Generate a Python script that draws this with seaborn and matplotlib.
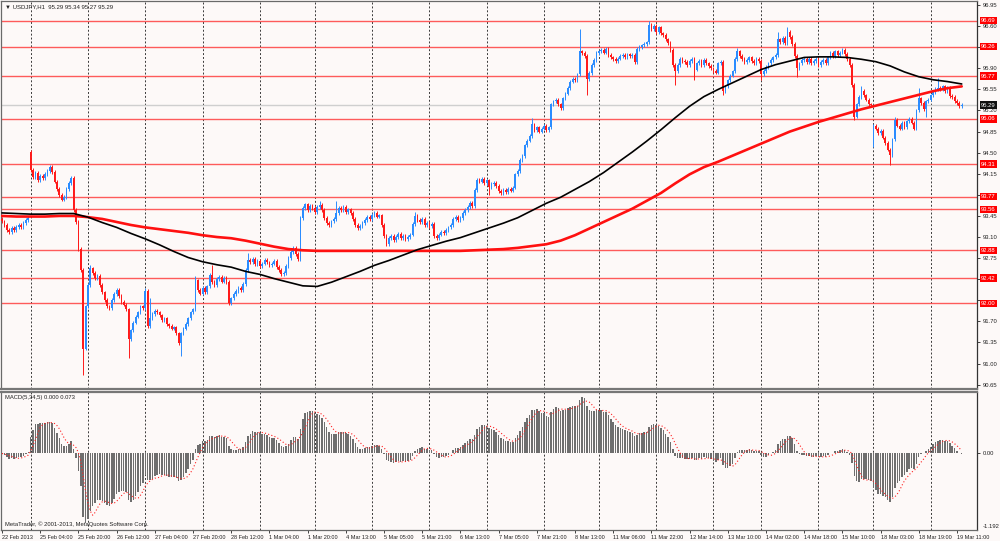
import numpy as np
import pandas as pd
import seaborn as sns
import matplotlib
matplotlib.use("Agg")
import matplotlib.pyplot as plt

# USDJPY H1 closes, one per bar (22 Feb 12:00 -> 19 Mar 13:00)
closes = [
    93.36, 93.30, 93.22, 93.18, 93.25, 93.21, 93.27, 93.30, 93.26, 93.33, 93.38, 93.42,  # 0-11
    94.21,                                                                               # 12
    94.10, 94.16, 94.05, 94.12, 94.08, 94.15, 94.20, 94.26,                              # 13-20
    94.18, 94.02, 93.90, 93.80, 93.72, 93.76,                                            # 21-26
    93.90, 94.00, 94.08, 93.55,                                                          # 27-30
    93.35, 92.90, 92.55, 91.25,                                                          # 31-34
    91.95, 92.30, 92.58, 92.50, 92.42, 92.45, 92.30, 92.18, 92.05, 91.95, 91.92,         # 35-45
    92.05, 92.15, 92.22, 92.12, 92.02, 91.98, 91.90,                                     # 46-52
    91.40, 91.55, 91.68, 91.78, 91.85,                                                   # 53-57
    91.95, 91.92, 92.20, 91.62,                                                          # 58-61
    91.75, 91.82, 91.88, 91.85,                                                          # 62-65
    91.80, 91.72, 91.75, 91.65, 91.62, 91.58, 91.60, 91.50,                              # 66-73
    91.34, 91.50,                                                                        # 74-75
    91.58, 91.66, 91.75, 91.85, 91.90, 92.38,                                            # 76-81
    92.22, 92.16, 92.25, 92.18, 92.28,                                                   # 82-86
    92.47, 92.35,                                                                        # 87-88
    92.30, 92.40, 92.44, 92.36, 92.42, 92.35, 92.00,                                     # 89-95
    92.08, 92.15, 92.20, 92.26, 92.22, 92.32, 92.55, 92.72,                              # 96-103
    92.68, 92.74, 92.65, 92.70, 92.62, 92.66, 92.72, 92.68, 92.63, 92.66, 92.70,         # 104-114
    92.60, 92.55, 92.48, 92.50,                                                          # 115-118
    92.62, 92.75, 92.85, 92.92, 92.82, 92.74,                                            # 119-124
    93.42, 93.58, 93.64,                                                                 # 125-127
    93.55, 93.62, 93.58, 93.52, 93.60, 93.63, 93.55,                                     # 128-134
    93.42, 93.33, 93.30, 93.36, 93.40,                                                   # 135-139
    93.50, 93.58, 93.55, 93.60, 93.52, 93.56, 93.50,                                     # 140-146
    93.40, 93.30, 93.25, 93.28, 93.33,                                                   # 147-151
    93.38, 93.44, 93.40, 93.47, 93.50, 93.44, 93.46,                                     # 152-158
    93.30, 93.12, 92.98,                                                                 # 159-161
    93.08, 93.12, 93.05, 93.10, 93.15, 93.08, 93.12, 93.06, 93.10, 93.14,                # 162-171
    93.32, 93.45, 93.38, 93.35, 93.40,                                                   # 172-176
    93.30, 93.33, 93.28, 93.32, 93.12, 93.08,                                            # 177-182
    93.14, 93.18, 93.16, 93.22, 93.26, 93.30,                                            # 183-188
    93.40, 93.44, 93.38, 93.42,                                                          # 189-192
    93.50, 93.55, 93.60, 93.66, 93.62, 93.88, 94.05,                                     # 193-199
    94.02, 94.06, 94.00, 94.04, 93.93,                                                   # 200-204
    93.98, 94.00, 93.95, 93.86, 93.83,                                                   # 205-209
    93.88, 93.85, 93.90, 93.87, 93.92,                                                   # 210-214
    94.14, 94.20, 94.38, 94.44, 94.62, 94.70, 94.78, 94.97,                              # 215-222
    94.88, 94.92, 94.85, 94.90, 94.95, 94.88, 94.92,                                     # 223-229
    95.30, 95.35, 95.38, 95.30, 95.24,                                                   # 230-234
    95.40, 95.48, 95.57, 95.68, 95.72, 95.70, 95.80,                                     # 235-241
    96.18, 96.15, 96.10, 95.72,                                                          # 242-245
    95.82, 95.95, 96.04, 96.15, 96.18,                                                   # 246-250
    96.20, 96.16, 96.22, 96.12,                                                          # 251-254
    96.08, 96.05, 96.02, 96.06,                                                          # 255-258
    96.10, 96.12, 96.08, 96.13, 96.10, 96.12, 96.00,                                     # 259-265
    96.22, 96.25, 96.28, 96.30, 96.33, 96.62,                                            # 266-271
    96.55, 96.60, 96.50, 96.58, 96.48,                                                   # 272-276
    96.45, 96.38, 96.32, 96.20, 95.95, 95.85,                                            # 277-282
    95.95, 96.05, 96.02,                                                                 # 283-285
    96.00, 95.96, 96.02, 96.05, 95.88,                                                   # 286-290
    95.98, 96.02, 95.95, 96.04, 95.98, 95.94,                                            # 291-296
    95.90, 95.86, 95.83, 95.98, 96.00, 95.52,                                            # 297-302
    95.60, 95.70, 95.78, 95.85, 96.05, 96.18,                                            # 303-308
    96.10, 96.05, 96.00, 96.04,                                                          # 309-312
    96.08, 96.02, 95.98, 96.06, 96.02, 95.80,                                            # 313-318
    95.86, 95.92, 95.98, 96.04, 96.08, 96.12,                                            # 319-324
    96.38, 96.34, 96.40, 96.32, 96.50,                                                   # 325-329
    96.42, 96.30, 96.10, 95.90,                                                          # 330-333
    95.98, 96.04, 96.06,                                                                 # 334-336
    96.00, 96.05, 95.98, 96.02, 96.06, 95.96, 96.00, 96.04,                              # 337-344
    95.98, 96.08, 96.15, 96.10, 96.18, 96.12, 96.16, 96.20, 96.14,                       # 345-353
    96.05, 95.95, 95.62, 95.10,                                                          # 354-357
    95.30, 95.42, 95.52, 95.45, 95.38, 95.30, 95.29,                                     # 358-364
    94.95, 94.90, 94.82, 94.86,                                                          # 365-368
    94.75, 94.66, 94.55, 94.46, 94.72, 95.05,                                            # 369-374
    94.95, 94.90, 95.00, 94.92,                                                          # 375-378
    95.02, 95.06, 95.00, 94.90, 95.20, 95.40,                                            # 379-384
    95.32, 95.22, 95.35, 95.38,                                                          # 385-388
    95.45, 95.50, 95.56, 95.58, 95.55, 95.60, 95.52,                                     # 389-395
    95.58, 95.44, 95.42, 95.36, 95.32, 95.27, 95.29,                                     # 396-402
]

# opens that are not the previous close (weekend gaps)
gap_opens = {0: 93.40, 12: 94.51, 365: 94.65}

# long wicks visible on the chart
wick_highs = {12: 94.55, 37: 92.63, 60: 92.25, 62: 92.08, 81: 92.45, 88: 92.64,
              103: 92.83, 133: 93.70, 140: 93.69, 173: 93.52, 222: 95.07,
              242: 96.55, 271: 96.69, 308: 96.24, 325: 96.50, 329: 96.58,
              360: 95.60, 374: 95.10, 384: 95.58, 392: 95.74}
wick_lows = {34: 90.81, 53: 91.09, 75: 91.12, 204: 93.80, 245: 95.46, 282: 95.63,
             290: 95.71, 302: 95.45, 318: 95.70, 333: 95.75, 357: 95.05,
             365: 94.60, 372: 94.29, 387: 95.10}

# moving averages, read every 6 bars
ma_bars = list(range(0, 403, 6))
ma_black = [93.50, 93.49, 93.48, 93.48, 93.49, 93.49, 93.43, 93.34, 93.26, 93.16,
            93.07, 92.97, 92.86, 92.76, 92.69, 92.64, 92.60, 92.53, 92.48, 92.41,
            92.35, 92.29, 92.28, 92.35, 92.44, 92.53, 92.63, 92.71, 92.80, 92.89,
            92.96, 93.03, 93.09, 93.17, 93.25, 93.33, 93.42, 93.54, 93.66, 93.76,
            93.89, 94.02, 94.17, 94.34, 94.51, 94.69, 94.88, 95.08, 95.27, 95.43,
            95.55, 95.66, 95.77, 95.88, 95.96, 96.02, 96.08, 96.09, 96.09, 96.08,
            96.05, 96.01, 95.94, 95.84, 95.76, 95.71, 95.68, 95.64]
ma_red = [93.45, 93.44, 93.44, 93.44, 93.45, 93.45, 93.43, 93.40, 93.35, 93.30,
          93.26, 93.23, 93.20, 93.17, 93.13, 93.10, 93.08, 93.04, 92.99, 92.94,
          92.90, 92.88, 92.87, 92.87, 92.87, 92.87, 92.87, 92.87, 92.87, 92.87,
          92.87, 92.87, 92.87, 92.88, 92.89, 92.90, 92.92, 92.95, 92.98, 93.04,
          93.13, 93.24, 93.35, 93.46, 93.57, 93.70, 93.83, 93.99, 94.14, 94.26,
          94.35, 94.45, 94.55, 94.65, 94.75, 94.85, 94.93, 95.01, 95.08, 95.15,
          95.22, 95.28, 95.34, 95.40, 95.46, 95.52, 95.57, 95.60]

levels = [96.69, 96.26, 95.77, 95.06, 94.31, 93.77, 93.56, 92.88, 92.42, 92.00]
last_price = 95.29
price_ticks = [96.95, 96.60, 96.25, 95.90, 95.55, 95.20, 94.85, 94.50, 94.15, 93.80,
               93.45, 93.10, 92.75, 92.40, 92.05, 91.70, 91.35, 91.00, 90.65]

day_lines = [12, 36, 60, 84, 108, 131, 155, 179, 203, 227, 250, 274, 298, 318,
             342, 365, 389]
time_labels = ["22 Feb 2013", "25 Feb 04:00", "25 Feb 20:00", "26 Feb 12:00",
               "27 Feb 04:00", "27 Feb 20:00", "28 Feb 12:00", "1 Mar 04:00",
               "1 Mar 20:00", "4 Mar 13:00", "5 Mar 05:00", "5 Mar 21:00",
               "6 Mar 13:00", "7 Mar 05:00", "7 Mar 21:00", "8 Mar 13:00",
               "11 Mar 06:00", "11 Mar 22:00", "12 Mar 14:00", "13 Mar 10:00",
               "14 Mar 02:00", "14 Mar 18:00", "15 Mar 10:00", "18 Mar 03:00",
               "18 Mar 19:00", "19 Mar 11:00"]

BG = "#fdf9f8"
BULL = "#2b8cff"
BEAR = "#ff1a1a"

sns.set_style("white")
plt.rcParams["font.family"] = ["Liberation Sans", "DejaVu Sans"]

n = len(closes)
xs = np.arange(n)
c = np.array(closes)
o = np.r_[closes[0], c[:-1]]
for k, v in gap_opens.items():
    if k < n:
        o[k] = v
hi = np.maximum(o, c) + 0.03
lo = np.minimum(o, c) - 0.03
for k, v in wick_highs.items():
    if k < n:
        hi[k] = v
for k, v in wick_lows.items():
    if k < n:
        lo[k] = v
cols = np.where(c >= o, BULL, BEAR)

# MACD(5,34,5)
s = pd.Series(closes)
macd = s.ewm(span=5, adjust=False).mean() - s.ewm(span=34, adjust=False).mean()
signal = macd.rolling(5, min_periods=1).mean()

fig = plt.figure(figsize=(10, 5.41), dpi=100, facecolor=BG)
W, H = 1000.0, 541.0
ax = fig.add_axes([1 / W, 1 - 389 / H, 976 / W, 388 / H], facecolor=BG)
axm = fig.add_axes([1 / W, 1 - 530 / H, 976 / W, 138 / H], facecolor=BG, sharex=ax)

xlim = (-0.42, 408.4)

# main price panel
for d in day_lines:
    ax.axvline(d, color="#3a3a3a", lw=0.7, ls=(0, (2, 2)), zorder=1)
    axm.axvline(d, color="#3a3a3a", lw=0.7, ls=(0, (2, 2)), zorder=1)
for lv in levels:
    ax.axhline(lv, color="#ff4a4a", lw=1.0, alpha=0.9, zorder=1)
ax.axhline(last_price, color="#cfcfcf", lw=1.0, zorder=1)

ax.vlines(xs, lo, hi, colors=cols, lw=0.7, zorder=3)
body = np.maximum(np.abs(c - o), 0.012)
ax.bar(xs, body, bottom=np.minimum(o, c), width=0.7, color=cols, lw=0, zorder=3)

sns.lineplot(x=ma_bars, y=ma_red, ax=ax, color="#ff1010", lw=1.9, zorder=4)
sns.lineplot(x=ma_bars, y=ma_black, ax=ax, color="black", lw=1.2, zorder=5)

ax.set_xlim(*xlim)
ax.set_ylim(90.578, 97.017)
ax.yaxis.tick_right()
ax.set_yticks(price_ticks)
# labels hidden behind a level box on the original are left blank
shown = [f"{t:.2f}" if min(abs(t - lv) for lv in levels) > 0.06 else "" for t in price_ticks]
ax.set_yticklabels(shown)
ax.tick_params(axis="y", right=True, length=2, width=0.6, pad=2, labelsize=4.2,
               colors="#222222")
ax.tick_params(axis="x", bottom=False, labelbottom=False)
ax.set_xlabel("")
ax.set_ylabel("")
for side in ["left", "top"]:
    ax.spines[side].set_color("#6a6a6a")
    ax.spines[side].set_linewidth(0.9)
ax.spines["right"].set_color("#333333")
ax.spines["right"].set_linewidth(0.9)
ax.spines["bottom"].set_color("#777777")
ax.spines["bottom"].set_linewidth(1.6)

for lv in levels:
    ax.text(1.004, lv, f"{lv:.2f}", transform=ax.get_yaxis_transform(),
            ha="left", va="center", fontsize=4.2, color="white", zorder=10,
            bbox=dict(boxstyle="square,pad=0.2", fc="#ff0000", ec="none"),
            clip_on=False)
ax.text(1.004, last_price, f"{last_price:.2f}", transform=ax.get_yaxis_transform(),
        ha="left", va="center", fontsize=4.2, color="white", zorder=11,
        bbox=dict(boxstyle="square,pad=0.2", fc="#111111", ec="none"), clip_on=False)

ax.text(0.004, 0.985, "\u25bc USDJPY,H1  95.29 95.34 95.27 95.29", transform=ax.transAxes,
        ha="left", va="center", fontsize=4.3, color="#222222")

# MACD panel
axm.bar(xs, macd.values, width=0.62, color="#6e6e6e", lw=0, zorder=3)
sns.lineplot(x=xs, y=signal.values, ax=axm, color="#ff2020", lw=0.8,
             ls=(0, (1, 2)), zorder=4)
axm.set_xlim(*xlim)
axm.set_ylim(-1.192, 0.958)
axm.yaxis.tick_right()
axm.set_yticks([0.0])
axm.set_yticklabels(["0.00"])
axm.text(1.006, -1.145, "-1.192", transform=axm.get_yaxis_transform(), ha="left",
         va="center", fontsize=4.2, color="#222222", clip_on=False)
axm.tick_params(axis="y", right=True, length=2, width=0.6, pad=2, labelsize=4.2,
                colors="#222222")
tick_pos = [16 * k for k in range(len(time_labels))]
axm.set_xticks(tick_pos)
axm.set_xticklabels(time_labels)
axm.tick_params(axis="x", bottom=True, length=2, width=0.6, pad=1.5, labelsize=4.0,
                colors="#222222")
for lab in axm.get_xticklabels():
    lab.set_horizontalalignment("left")
axm.set_xlabel("")
axm.set_ylabel("")
for side in ["left", "bottom"]:
    axm.spines[side].set_color("#6a6a6a")
    axm.spines[side].set_linewidth(0.9)
axm.spines["right"].set_color("#333333")
axm.spines["right"].set_linewidth(0.9)
axm.spines["top"].set_color("#777777")
axm.spines["top"].set_linewidth(1.6)

axm.text(0.004, 0.96, "MACD(5,34,5) 0.000 0.073", transform=axm.transAxes,
         ha="left", va="center", fontsize=4.2, color="#222222")
axm.text(0.004, 0.04, "MetaTrader, \u00a9 2001-2013, MetaQuotes Software Corp.",
         transform=axm.transAxes, ha="left", va="center", fontsize=4.2,
         color="#222222")

fig.savefig("out.png", dpi=100, facecolor=BG)
print(n)
